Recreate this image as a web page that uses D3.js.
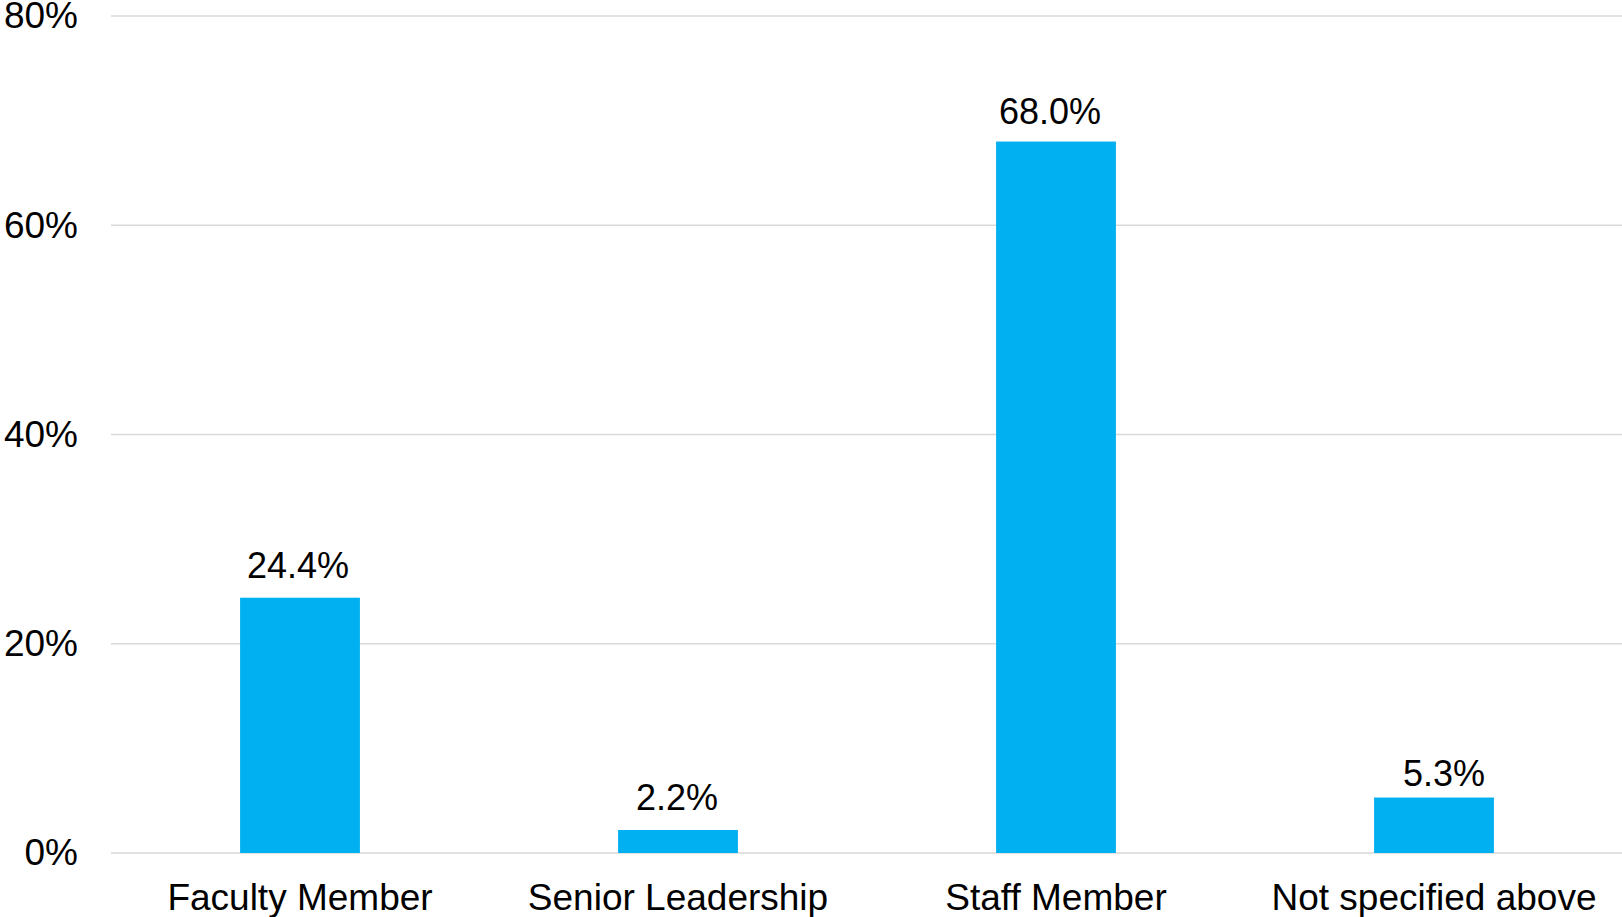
<!DOCTYPE html>
<html>
<head>
<meta charset="utf-8">
<script src="https://cdn.jsdelivr.net/npm/d3@7"></script>
<style>
  html, body { margin: 0; padding: 0; background: #fff; }
  svg { display: block; }
  text { font-family: "Liberation Sans", Arial, sans-serif; fill: #000; }
</style>
</head>
<body>
<svg id="chart" width="1622" height="917"></svg>
<script>
// Respondent role breakdown (percent)
const categories = ["Faculty Member", "Senior Leadership", "Staff Member", "Not specified above"];
const values = [24.4, 2.2, 68.0, 5.3];
const yTicks = [0, 20, 40, 60, 80];

const W = 1622, H = 917;
const margin = { left: 111, right: -1, top: 16, bottom: 64 };

const svg = d3.select("#chart");

const x = d3.scaleBand()
  .domain(categories)
  .range([margin.left, W - margin.right])
  .paddingInner(0.683)
  .paddingOuter(0.3415);

const y = d3.scaleLinear()
  .domain([0, 80])
  .range([H - margin.bottom, margin.top]);

// Horizontal gridlines
svg.append("g")
  .selectAll("line")
  .data(yTicks)
  .join("line")
  .attr("x1", margin.left)
  .attr("x2", W)
  .attr("y1", d => y(d))
  .attr("y2", d => y(d))
  .attr("stroke", "#d9d9d9")
  .attr("stroke-width", 1.4);

// Y axis labels
const yAxis = d3.axisLeft(y)
  .tickValues(yTicks)
  .tickFormat(d => d + "%")
  .tickSize(0)
  .tickPadding(33);

svg.append("g")
  .attr("transform", `translate(${margin.left},0)`)
  .call(yAxis)
  .call(g => g.select(".domain").remove())
  .call(g => g.selectAll("text")
    .attr("font-size", 37)
    .attr("font-family", "Liberation Sans, Arial, sans-serif")
    .attr("fill", "#000"));

// Bars
svg.append("g")
  .selectAll("rect")
  .data(values)
  .join("rect")
  .attr("x", (d, i) => x(categories[i]))
  .attr("width", x.bandwidth())
  .attr("y", d => y(d))
  .attr("height", d => y(0) - y(d))
  .attr("fill", "#00b0f0");

// Value labels above bars; [dx, dy] nudges per label
const labelNudge = [[-2, 0], [-1, 0], [-6, 2], [10, 8]];
svg.append("g")
  .selectAll("text")
  .data(values)
  .join("text")
  .attr("x", (d, i) => x(categories[i]) + x.bandwidth() / 2 + labelNudge[i][0])
  .attr("y", (d, i) => y(d) - 20 + labelNudge[i][1])
  .attr("text-anchor", "middle")
  .attr("font-size", 36)
  .text(d => d.toFixed(1) + "%");

// Category axis labels
const xAxis = d3.axisBottom(x).tickSize(0).tickPadding(0);
svg.append("g")
  .attr("transform", `translate(0,${y(0)})`)
  .call(xAxis)
  .call(g => g.select(".domain").remove())
  .call(g => g.selectAll("text")
    .attr("dy", null)
    .attr("y", 57)
    .attr("font-size", 37)
    .attr("font-family", "Liberation Sans, Arial, sans-serif")
    .attr("fill", "#000"));
</script>
</body>
</html>
